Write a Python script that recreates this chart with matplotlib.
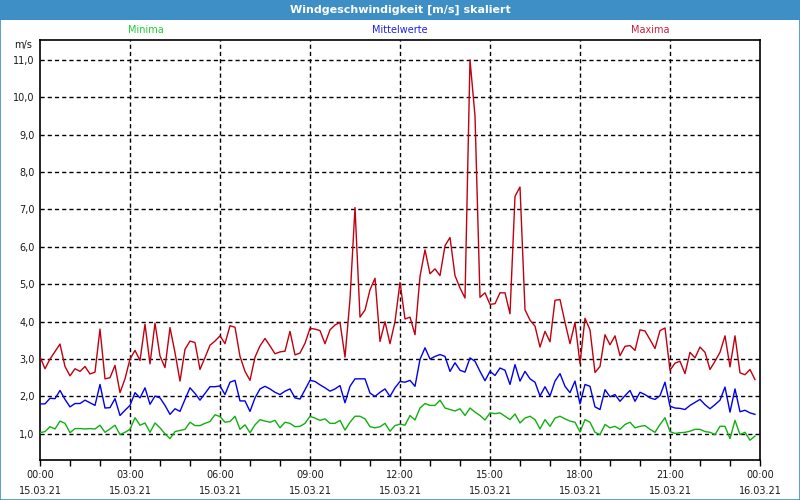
import matplotlib
matplotlib.use('Agg')
import matplotlib.pyplot as plt
from matplotlib.patches import Rectangle
import numpy as np

# 10-minute values, 15.03.21 00:00 .. 23:50
maxima = [3.06, 2.74, 3.0, 3.2, 3.4, 2.8, 2.55, 2.74, 2.67, 2.8, 2.6, 2.65,
          3.8, 2.47, 2.5, 2.83, 2.1, 2.47, 3.0, 3.23, 2.96, 3.93, 2.87, 3.96,
          3.08, 2.77, 3.84, 3.17, 2.41, 3.26, 3.48, 3.44, 2.72, 3.04, 3.37, 3.48,
          3.62, 3.41, 3.89, 3.85, 3.07, 2.67, 2.43, 3.05, 3.35, 3.55, 3.35, 3.14,
          3.19, 3.21, 3.74, 3.11, 3.16, 3.42, 3.82, 3.8, 3.76, 3.41, 3.78, 3.91,
          3.98, 3.05, 4.6, 7.05, 4.12, 4.31, 4.85, 5.16, 3.47, 4.0, 3.41, 4.0,
          5.05, 4.07, 4.12, 3.65, 5.21, 5.92, 5.28, 5.41, 5.23, 6.03, 6.25, 5.23,
          4.9, 4.63, 11.0, 9.5, 4.65, 4.77, 4.46, 4.48, 4.77, 4.77, 4.21, 7.35,
          7.6, 4.32, 4.04, 3.88, 3.32, 3.74, 3.46, 4.57, 4.59, 3.98, 3.41, 3.98,
          2.88, 4.09, 3.78, 2.64, 2.8, 3.65, 3.38, 3.62, 3.09, 3.34, 3.36, 3.23,
          3.78, 3.75, 3.52, 3.28, 3.76, 3.83, 2.7, 2.89, 2.94, 2.61, 3.18, 3.03,
          3.32, 3.18, 2.72, 2.94, 3.18, 3.62, 2.79, 3.62, 2.63, 2.58, 2.72, 2.45]

mittel = [1.8, 1.8, 1.95, 1.94, 2.16, 1.92, 1.72, 1.81, 1.81, 1.9, 1.83, 1.76,
          2.32, 1.69, 1.7, 1.94, 1.49, 1.63, 1.76, 2.1, 1.96, 2.23, 1.79, 2.01,
          1.96, 1.76, 1.52, 1.67, 1.6, 1.92, 2.23, 2.08, 1.9, 2.08, 2.26, 2.26,
          2.28, 2.05, 2.38, 2.43, 1.88, 1.88, 1.6, 1.96, 2.2, 2.27, 2.2, 2.11,
          2.05, 2.14, 2.2, 1.96, 1.93, 2.18, 2.43, 2.4, 2.31, 2.23, 2.14, 2.2,
          2.29, 1.83, 2.27, 2.47, 2.47, 2.47, 2.09, 2.0, 2.11, 2.2, 2.0, 2.23,
          2.4, 2.38, 2.43, 2.27, 2.99, 3.3, 3.0, 3.07, 3.12, 3.07, 2.67, 2.9,
          2.7, 2.65, 3.03, 2.94, 2.67, 2.42, 2.67, 2.56, 2.76, 2.7, 2.32, 2.85,
          2.41, 2.67, 2.47, 2.38, 2.01, 2.26, 2.01, 2.41, 2.61, 2.27, 2.1, 2.41,
          1.8, 2.32, 2.27, 1.72, 1.65, 2.18, 1.99, 2.05, 1.87, 2.02, 2.16, 1.87,
          2.11, 2.05, 1.96, 1.92, 2.02, 2.38, 1.74, 1.69, 1.68, 1.65, 1.76, 1.84,
          1.92, 1.78, 1.67, 1.78, 1.9, 2.25, 1.58, 2.2, 1.59, 1.63, 1.56, 1.52]

minima = [1.03, 1.06, 1.19, 1.13, 1.34, 1.28, 1.03, 1.14, 1.14, 1.13, 1.14, 1.13,
          1.23, 1.04, 1.13, 1.23, 0.98, 1.04, 1.12, 1.43, 1.23, 1.29, 1.04, 1.29,
          1.16, 1.0, 0.87, 1.06, 1.09, 1.12, 1.31, 1.22, 1.22, 1.28, 1.33, 1.51,
          1.46, 1.31, 1.33, 1.47, 1.12, 1.24, 1.03, 1.24, 1.38, 1.34, 1.31, 1.36,
          1.16, 1.31, 1.28, 1.19, 1.2, 1.28, 1.47, 1.42, 1.36, 1.4, 1.28, 1.28,
          1.36, 1.1, 1.31, 1.47, 1.47, 1.4, 1.19, 1.16, 1.19, 1.28, 1.07, 1.22,
          1.26, 1.23, 1.49, 1.37, 1.69, 1.81, 1.76, 1.76, 1.9, 1.69, 1.65, 1.61,
          1.67, 1.49, 1.69, 1.58, 1.49, 1.37, 1.56, 1.54, 1.56, 1.47, 1.38, 1.53,
          1.29, 1.42, 1.47, 1.38, 1.13, 1.38, 1.2, 1.42, 1.47, 1.4, 1.34, 1.31,
          1.05, 1.38, 1.31, 1.04, 0.98, 1.25, 1.16, 1.2, 1.12, 1.25, 1.31, 1.16,
          1.2, 1.22, 1.12, 1.04, 1.25, 1.43, 1.06, 1.01, 1.03, 1.04, 1.07, 1.12,
          1.12, 1.06, 1.04, 0.98, 1.2, 1.2, 0.87, 1.36, 0.98, 1.04, 0.83, 0.94]

tick_hours = [0, 3, 6, 9, 12, 15, 18, 21, 24]
tick_labels = ['00:00\n15.03.21', '03:00\n15.03.21', '06:00\n15.03.21',
               '09:00\n15.03.21', '12:00\n15.03.21', '15:00\n15.03.21',
               '18:00\n15.03.21', '21:00\n15.03.21', '00:00\n16.03.21']
y_ticks = [1, 2, 3, 4, 5, 6, 7, 8, 9, 10, 11]

hours = np.arange(len(maxima)) / 6.0

frame_blue = '#3d8fc6'
txt = '#1a1a1a'

fig = plt.figure(figsize=(8, 5), dpi=100)
fig.patch.set_facecolor('white')

# title bar + thin border
fig.patches.append(Rectangle((0, 0.96), 1, 0.04, transform=fig.transFigure,
                             facecolor=frame_blue, edgecolor='none', zorder=0))
fig.patches.append(Rectangle((0.0006, 0.001), 0.9988, 0.998, transform=fig.transFigure,
                             facecolor='none', edgecolor=frame_blue, lw=1.2, zorder=0))
fig.text(0.5, 0.981, 'Windgeschwindigkeit [m/s] skaliert', color='white',
         ha='center', va='center', fontsize=8, fontweight='bold')

# series names
fig.text(0.1825, 0.94, 'Minima', color='#22cc33', ha='center', va='center', fontsize=7)
fig.text(0.50, 0.94, 'Mittelwerte', color='#2020e0', ha='center', va='center', fontsize=7)
fig.text(0.8125, 0.94, 'Maxima', color='#c8203c', ha='center', va='center', fontsize=7)

ax = fig.add_axes([0.05, 0.08, 0.90, 0.84])
ax.set_facecolor('white')

ax.plot(hours, minima, color='#10b010', lw=1, zorder=3)
ax.plot(hours, mittel, color='#0000ee', lw=1, zorder=3)
ax.plot(hours, maxima, color='#c00010', lw=1, zorder=3)

ax.set_xlim(0, 24)
ax.set_ylim(0.3, 11.53)

ax.set_xticks(tick_hours)
ax.set_xticklabels(tick_labels, fontsize=7, color=txt, linespacing=1.75)
ax.set_xticks(range(25), minor=True)
ax.tick_params(axis='x', which='both', direction='out', length=4, width=1, pad=3)

ax.set_yticks(y_ticks)
ax.set_yticklabels(['%d,0' % v for v in y_ticks], fontsize=7, color=txt)
ax.tick_params(axis='y', length=0, pad=4)

# dashed grid
for h in tick_hours[1:-1]:
    ax.axvline(h, color='black', lw=1, ls=(0, (3, 2.2)), zorder=1)
for v in y_ticks:
    ax.axhline(v, color='black', lw=1, ls=(0, (3, 2.2)), zorder=1)

for s in ax.spines.values():
    s.set_color('black')
    s.set_linewidth(1.2)

fig.text(0.04, 0.91, 'm/s', ha='right', va='center', fontsize=7, color=txt)

fig.savefig('out.png', dpi=100)
